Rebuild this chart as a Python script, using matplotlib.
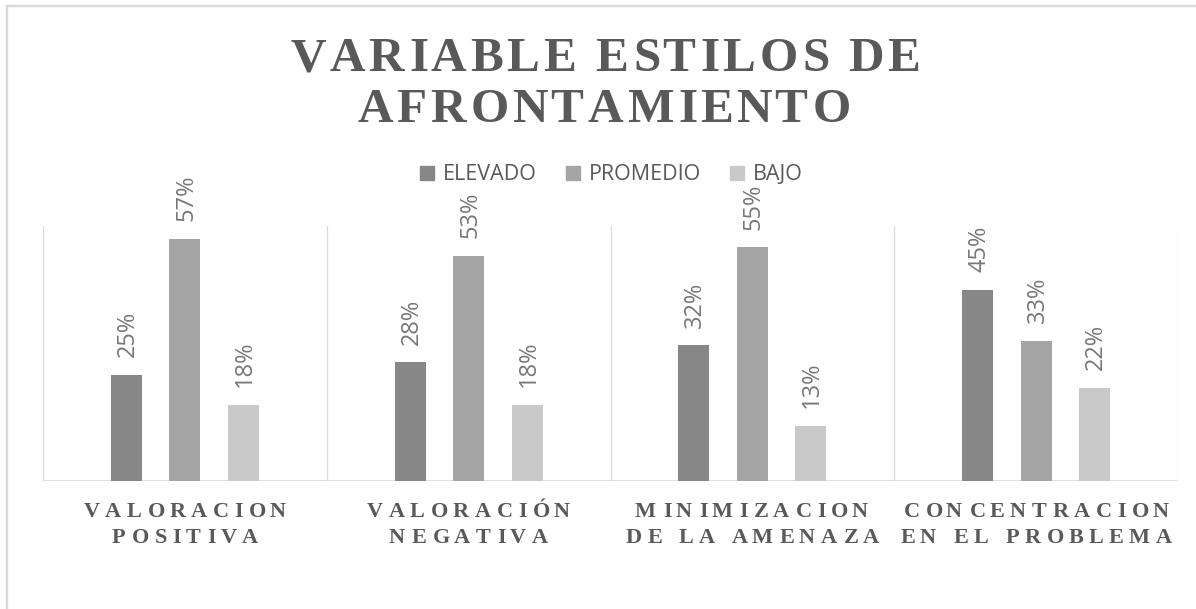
import matplotlib
matplotlib.use("Agg")
import matplotlib.pyplot as plt
import numpy as np
from matplotlib import font_manager
from matplotlib.ft2font import FT2Font
from matplotlib.transforms import IdentityTransform
from matplotlib.lines import Line2D
from matplotlib.patches import Rectangle

# ---------------- data ----------------
title = "VARIABLE ESTILOS DE\nAFRONTAMIENTO"
categories = ["VALORACION\nPOSITIVA", "VALORACIÓN\nNEGATIVA",
              "MINIMIZACION\nDE LA AMENAZA", "CONCENTRACION\nEN EL PROBLEMA"]
series_names = ["ELEVADO", "PROMEDIO", "BAJO"]
elevado = [25, 28, 32, 45]
promedio = [57, 53, 55, 33]
bajo = [18, 18, 13, 22]
series_values = [elevado, promedio, bajo]
colors = ["#878787", "#a5a5a5", "#c9c9c9"]

W, H = 1196, 609
DPI = 100
fig = plt.figure(figsize=(W / DPI, H / DPI), dpi=DPI)
fig.patch.set_facecolor("white")

# chart-area border (top and left visible)
fig.add_artist(Rectangle((7, -20), 1300, H - 6 + 20, transform=IdentityTransform(),
                         fill=False, edgecolor="#d9d9d9", linewidth=1.7))

# plot area
left_px, right_px, top_px, base_px = 43, 1178, 226, 481
ax = fig.add_axes([left_px / W, 1 - base_px / H, (right_px - left_px) / W, (base_px - top_px) / H])
ax.set_xlim(0, len(categories))
ax.set_ylim(0, 60)
for s in ax.spines.values():
    s.set_visible(False)
ax.set_xticks([])
ax.set_yticks([])

bar_w = 0.109
offset = 0.206
for i in range(len(categories) + 1):
    ax.axvline(i, color="#d9d9d9", linewidth=0.9, zorder=1)
ax.axhline(0, color="#d9d9d9", linewidth=1.2, zorder=1)

x = np.arange(len(categories)) + 0.5
for j, (vals, col) in enumerate(zip(series_values, colors)):
    xs = x + (j - 1) * offset
    ax.bar(xs, vals, width=bar_w, color=col, zorder=2)
    for xi, v in zip(xs, vals):
        ax.annotate(f"{v}%", (xi, v), xytext=(1, 12.5), textcoords="offset points",
                    rotation=90, ha="center", va="bottom", fontsize=17,
                    family="Open Sans", color="#777777")

# legend
handles = [Line2D([], [], marker="s", linestyle="none", markersize=10,
                  markerfacecolor=c, markeredgecolor=c) for c in colors]
fig.legend(handles, series_names, loc="center", bbox_to_anchor=(0.511, 1 - 175 / H),
           ncol=3, frameon=False, prop={"family": "Open Sans", "size": 15.5},
           labelcolor="#595959", handlelength=0.7, handletextpad=0.4,
           columnspacing=1.3)


# ---------- letter-spaced serif text ----------
def tracked_line(line, xc, y_base, size_pt, tracking, color="#595959"):
    prop = font_manager.FontProperties(family="Liberation Serif", weight="bold")
    path = font_manager.findfont(prop)
    ft = FT2Font(path, hinting_factor=1)
    ft.set_size(size_pt, DPI)
    advs, bears = [], []
    for c in line:
        g = ft.load_char(ord(c))
        advs.append(g.linearHoriAdvance / 65536.0)
        bears.append(g.horiBearingX / 64.0)
    steps = [a + tracking for a in advs]
    total = sum(steps) - tracking
    pen = xc - total / 2
    for c, st, b in zip(line, steps, bears):
        if c != " ":
            fig.text(pen + b, H - y_base, c, transform=IdentityTransform(),
                     ha="left", va="baseline", fontsize=size_pt,
                     family="Liberation Serif", weight="bold", color=color)
        pen += st


# title
t_lines = title.split("\n")
tracked_line(t_lines[0], 604, 71, 35.5, 3.8)
tracked_line(t_lines[1], 603, 122, 35.5, 3.8)

# category labels
for i, cat in enumerate(categories):
    xc = left_px + (i + 0.5) * (right_px - left_px) / len(categories)
    l1, l2 = cat.split("\n")
    tracked_line(l1, xc, 517, 16, 5.6)
    tracked_line(l2, xc, 543, 16, 5.6)

fig.savefig("out.png", dpi=DPI, facecolor="white")
